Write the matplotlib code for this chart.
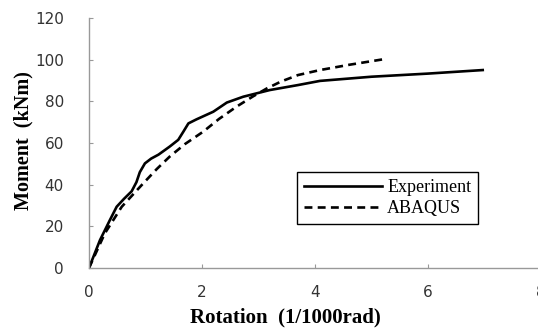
import matplotlib
matplotlib.use("Agg")
import matplotlib.pyplot as plt

# experiment curve (rotation in 1/1000 rad, moment in kNm)
exp_rot = [0, 0.195, 0.37, 0.49, 0.62, 0.755, 0.84, 0.9, 0.99, 1.1, 1.23, 1.43,
           1.58, 1.67, 1.76, 1.9, 2.2, 2.44, 2.73, 3.2, 3.7, 4.09, 5.0, 6.0, 6.97]
exp_mom = [0, 13.4, 23, 29.4, 33.2, 36.8, 41.2, 46, 50.2, 52.5, 54.4, 58.3,
           61.5, 65.4, 69.4, 71.3, 75, 79.4, 82.2, 85.4, 87.8, 89.8, 91.8, 93.3, 95]

abq_rot = [0, 0.28, 0.58, 0.96, 1.2, 1.43, 1.7, 2.02, 2.3, 2.61, 2.9, 3.15,
           3.4, 3.7, 4.09, 4.6, 5.24]
abq_mom = [0, 16.6, 29.4, 40.6, 47.5, 53.5, 59.5, 65.4, 71.5, 77.4, 82.3, 86.2,
           89.5, 92.6, 95, 97.5, 100.3]

xticks = [0, 2, 4, 6, 8]
yticks = [0, 20, 40, 60, 80, 100, 120]

fig = plt.figure(figsize=(5.38, 3.29), dpi=100)
ax = fig.add_axes([0.1654, 0.1854, 0.840, 0.760])

ax.plot(exp_rot, exp_mom, color="black", lw=1.9, label="Experiment",
        solid_joinstyle="round")
ax.plot(abq_rot, abq_mom, color="black", lw=1.9, ls=(0, (3, 2)), label="ABAQUS")

ax.set_xlim(0, 8)
ax.set_ylim(0, 120)
ax.set_xticks(xticks)
ax.set_yticks(yticks)
for s in ["top", "right"]:
    ax.spines[s].set_visible(False)
for s in ["left", "bottom"]:
    ax.spines[s].set_color("#999999")
    ax.spines[s].set_linewidth(1.0)
ax.tick_params(direction="in", length=3, color="#999999", labelsize=11,
               labelcolor="#333333")
ax.tick_params(axis="x", pad=12)
ax.tick_params(axis="y", pad=18)

fig.text(0.043, 0.574, "Moment  (kNm)", rotation=90, ha="center", va="center",
         family="Liberation Serif", weight="bold", fontsize=14.5)
fig.text(0.531, 0.035, "Rotation  (1/1000rad)", ha="center", va="center",
         family="Liberation Serif", weight="bold", fontsize=15)

leg = ax.legend(loc="upper left", bbox_to_anchor=(0.460, 0.384), frameon=True,
                fancybox=False, edgecolor="black", framealpha=1,
                prop={"family": "Liberation Serif", "size": 13},
                handlelength=4.3, borderpad=0.4, labelspacing=0.2,
                handletextpad=0.3, borderaxespad=0)
leg.get_frame().set_linewidth(1.0)

fig.savefig("out.png", dpi=100)
